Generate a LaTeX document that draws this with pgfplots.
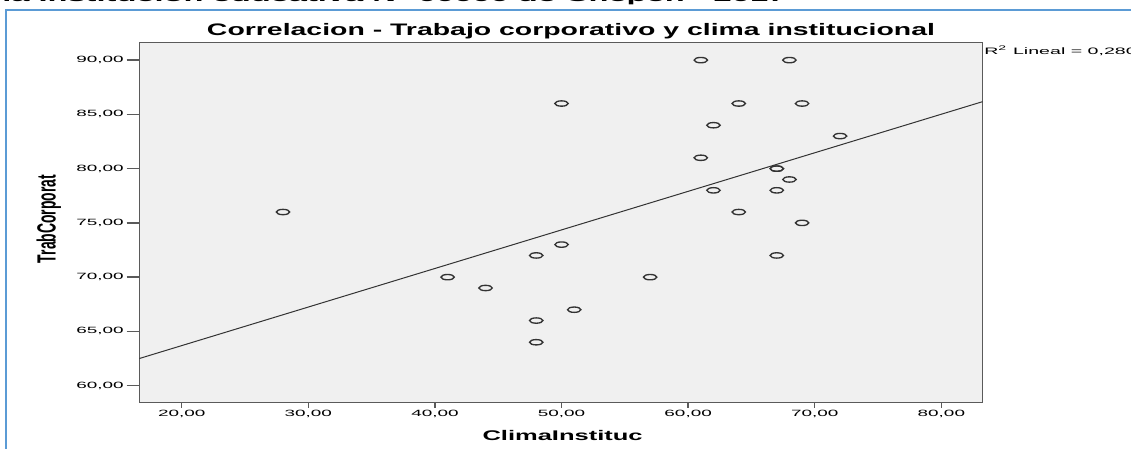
\documentclass[border=0pt]{standalone}
\usepackage{fontspec}
\setmainfont{Liberation Sans}
\usepackage{graphicx}
\usepackage{pgfplots}
\usepackage{pgfplotstable}
\pgfplotsset{compat=1.18}
\definecolor{frameblue}{HTML}{5B9BD5}
\definecolor{plotbg}{HTML}{F0F0F0}
\definecolor{axgray}{HTML}{5A5A5A}
\definecolor{mk}{HTML}{333333}
\newcommand\tk[1]{\resizebox{35.5pt}{\height}{\fontsize{6.8pt}{8pt}\selectfont #1}}
\pgfplotstableread{
x y
28 76
41 70
44 69
48 72
48 66
48 64
50 86
50 73
51 67
57 70
61 90
61 81
62 84
62 78
64 86
64 76
67 80
67 80
67 78
67 72
68 90
68 79
69 86
69 75
72 83
}\datatable
\begin{document}
\begin{tikzpicture}
\useasboundingbox (0pt,0pt) rectangle (848.25pt,336.75pt);
\clip (0pt,0pt) rectangle (848.25pt,336.75pt);
\fill[white] (0pt,0pt) rectangle (848.25pt,336.75pt);
\begin{axis}[
  at={(104.475pt,34.725pt)}, anchor=south west,
  scale only axis, width=632.4pt, height=270.2pt,
  xmin=16.65, xmax=83.25, ymin=58.43, ymax=91.63,
  axis background/.style={fill=plotbg},
  axis line style={draw=axgray, line width=1pt},
  tick align=outside, tick pos=left,
  major tick style={draw=axgray, line width=1pt},
  major tick length=9.5pt,
  ytick={60,65,...,90},
  yticklabels={{\tk{60,00}},{\tk{65,00}},{\tk{70,00}},{\tk{75,00}},{\tk{80,00}},{\tk{85,00}},{\tk{90,00}}},
  yticklabel style={inner sep=0pt, anchor=east, xshift=-2pt},
  xtick=\empty,
  extra x ticks={20,30,...,80},
  extra x tick labels={{\tk{20,00}},{\tk{30,00}},{\tk{40,00}},{\tk{50,00}},{\tk{60,00}},{\tk{70,00}},{\tk{80,00}}},
  extra x tick style={major tick length=3.75pt, tick label style={inner sep=0pt, anchor=north, yshift=-1.5pt}},
  title={\resizebox{546pt}{\height}{\bfseries\fontsize{12.5pt}{14pt}\selectfont Correlacion - Trabajo corporativo y clima institucional}},
  title style={at={(axis description cs:0.512,1.0205)}, anchor=base, inner sep=0pt, yshift=-6pt},
  xlabel={\resizebox{120pt}{\height}{\bfseries\fontsize{10.5pt}{12pt}\selectfont ClimaInstituc}},
  xlabel style={at={(axis description cs:0.502,-0.1055)}, anchor=base, inner sep=0pt},
  ylabel={\resizebox{66pt}{14.3pt}{\bfseries\fontsize{9pt}{11pt}\selectfont TrabCorporat}},
  ylabel style={at={(axis description cs:-0.0991,0.5098)}, anchor=base, rotate=0, inner sep=0pt},
  clip=true,
]
\addplot[draw=mk, line width=0.75pt] coordinates {(16.65,62.50) (83.25,86.17)};
\addplot[only marks, mark=o, mark size=2.0pt, mark options={draw=mk, line width=1pt, xscale=2.5}] table[x=x,y=y] {\datatable};
\end{axis}
\node[anchor=base west, inner sep=0pt] at (738pt,296pt) {\scalebox{2.1}[1]{\fontsize{7pt}{8pt}\selectfont R\textsuperscript{2} Lineal = 0,280}};
\node[anchor=base west, inner sep=0pt] at (1.5pt,335.5pt) {\resizebox{588pt}{\height}{\bfseries\fontsize{12pt}{14pt}\selectfont la Institución educativa N° 00000 de Chepén - 2017}};
\draw[frameblue, line width=1.5pt] (4.5pt,0pt) -- (4.5pt,329.25pt) -- (848.25pt,329.25pt);
\end{tikzpicture}
\end{document}
